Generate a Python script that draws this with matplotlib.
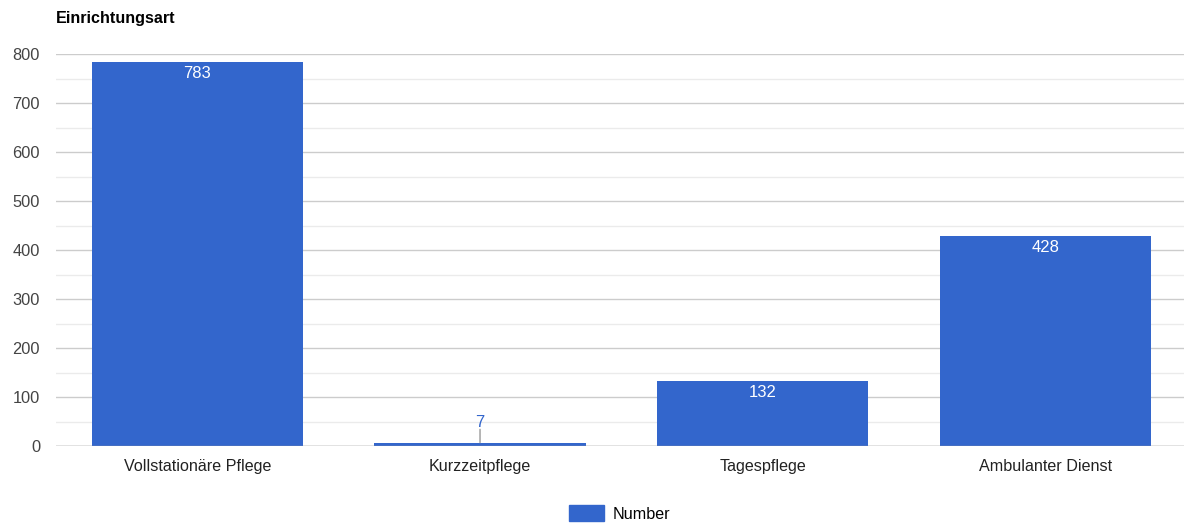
import matplotlib
matplotlib.use("Agg")
from matplotlib import pyplot as plt
from matplotlib.patches import Patch

categories = ["Vollstationäre Pflege", "Kurzzeitpflege", "Tagespflege", "Ambulanter Dienst"]
values = [783, 7, 132, 428]
series_name = "Number"
title = "Einrichtungsart"

plt.rcParams["font.family"] = ["Liberation Sans", "DejaVu Sans"]
blue = "#3366cc"

fig = plt.figure(figsize=(11.84, 5.23), dpi=100)
ax = fig.add_axes([0.0473, 0.1472, 0.955, 0.7495])

x = list(range(len(categories)))
bars = ax.bar(x, values, width=0.747, color=blue, zorder=3)

ax.set_xlim(-0.5, len(categories) - 0.5)
ax.set_ylim(0, 800)
ax.set_yticks(range(0, 801, 100))
ax.set_yticks(range(50, 800, 100), minor=True)
ax.grid(axis="y", which="major", color="#cccccc", linewidth=1, zorder=0)
ax.grid(axis="y", which="minor", color="#ebebeb", linewidth=1, zorder=0)
ax.axhline(0, color="#999999", linewidth=1, zorder=4)

ax.set_xticks(x)
ax.set_xticklabels(categories, fontsize=11.6, color="#222222")
ax.tick_params(axis="x", length=0, pad=9)
ax.tick_params(axis="y", length=0, labelsize=11.8, labelcolor="#444444", pad=11.5)
ax.tick_params(axis="y", which="minor", length=0)
for s in ax.spines.values():
    s.set_visible(False)

# value labels: inside bar if tall enough, otherwise above with a leader line
for xi, v in zip(x, values):
    if v > 50:
        ax.annotate(str(v), (xi, v), xytext=(0, -8), textcoords="offset points",
                    ha="center", va="center", color="white", fontsize=12, zorder=5)
    else:
        ax.annotate("", xy=(xi, v), xytext=(xi, v + 27),
                    arrowprops=dict(arrowstyle="-", color="#999999", lw=1,
                                    shrinkA=0, shrinkB=0), zorder=5)
        ax.text(xi, v + 40, str(v), ha="center", va="center", color=blue,
                fontsize=12, zorder=5)

fig.text(56 / 1184, 1 - 18 / 523, title, fontsize=11.6, fontweight="bold",
         ha="left", va="center", color="black")

handle = Patch(facecolor=blue, edgecolor=blue)
fig.legend([handle], [series_name], loc="center", bbox_to_anchor=(0.523, 0.018),
           frameon=False, fontsize=11.6, handlelength=2.2, handleheight=1.1,
           handletextpad=0.5)

fig.savefig("out.png", dpi=100)
